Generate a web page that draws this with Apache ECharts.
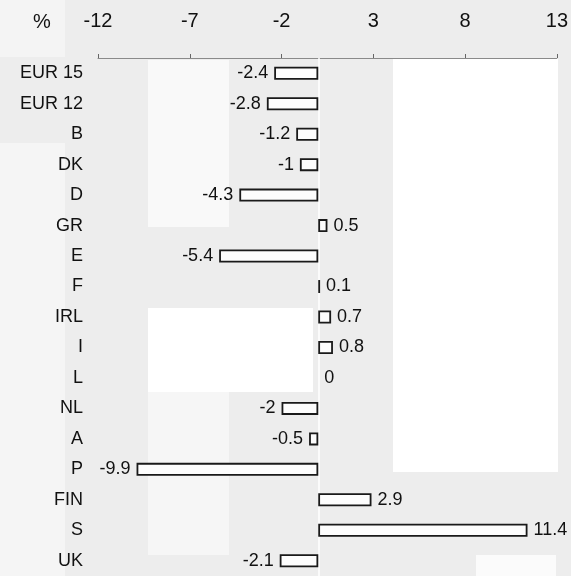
<!DOCTYPE html>
<html><head><meta charset="utf-8">
<script src="https://cdn.jsdelivr.net/npm/echarts@6/dist/echarts.min.js"></script>
<style>html,body{margin:0;padding:0;background:#ededed}#c{width:571px;height:576px}</style>
</head><body><div id="c"></div>
<script>
const categories = ['EUR 15','EUR 12','B','DK','D','GR','E','F','IRL','I','L','NL','A','P','FIN','S','UK'];
const values = [-2.4,-2.8,-1.2,-1,-4.3,0.5,-5.4,0.1,0.7,0.8,0,-2,-0.5,-9.9,2.9,11.4,-2.1];
const axisMin = -12, axisMax = 13, axisStep = 5;
const unitLabel = '%';

const FONT = "'Liberation Sans', Arial, sans-serif";
const chart = echarts.init(document.getElementById('c'), null, {renderer: 'canvas'});

function bgRect(x, y, w, h, fill) {
  return {type: 'rect', z: -10, silent: true, shape: {x, y, width: w, height: h}, style: {fill}};
}

const barData = values.map(v => ({
  value: v,
  itemStyle: v === 0 ? {borderWidth: 0} : {},
  label: {position: v < 0 ? 'left' : 'right'}
}));

chart.setOption({
  backgroundColor: '#ededed',
  animation: false,
  graphic: [
    bgRect(0, 0, 65, 57, '#f4f4f4'),
    bgRect(0, 143, 65, 433, '#f5f5f5'),
    bgRect(148, 60, 81, 167, '#f9f9f9'),
    bgRect(148, 308, 165, 84, '#ffffff'),
    bgRect(148, 392, 81, 163, '#f6f6f6'),
    bgRect(393, 58, 165, 414, '#ffffff'),
    bgRect(476, 555, 80, 21, '#fbfbfb'),
    {type: 'text', left: 33, top: 12, silent: true,
     style: {text: unitLabel, font: "20px " + FONT, fill: '#111'}}
  ],
  grid: {left: 98, right: 10, top: 58, bottom: -6, containLabel: false},
  xAxis: {
    type: 'value', position: 'top',
    min: axisMin, max: axisMax, interval: axisStep,
    axisLine: {show: true, lineStyle: {color: '#8a8a8a', width: 1}},
    axisTick: {show: true, length: 4, lineStyle: {color: '#666'}},
    splitLine: {show: false},
    axisLabel: {margin: 27, color: '#111', fontSize: 20, fontFamily: FONT}
  },
  yAxis: {
    type: 'category', inverse: true, data: categories,
    axisLine: {show: false}, axisTick: {show: false},
    axisLabel: {margin: 15, color: '#111', fontSize: 18, fontFamily: FONT}
  },
  series: [{
    type: 'line', data: [], z: 1, silent: true,
    markLine: {
      z: 1, silent: true, symbol: 'none', label: {show: false},
      lineStyle: {color: '#ffffff', width: 1.5, type: 'solid'},
      data: [{xAxis: 0}]
    }
  }, {
    type: 'bar', data: barData, barWidth: 13, z: 3,
    itemStyle: {color: '#fdfdfd', borderColor: '#1a1a1a', borderWidth: 1.8},
    label: {show: true, distance: 6, color: '#111', fontSize: 18, fontFamily: FONT}
  }]
});
</script></body></html>
